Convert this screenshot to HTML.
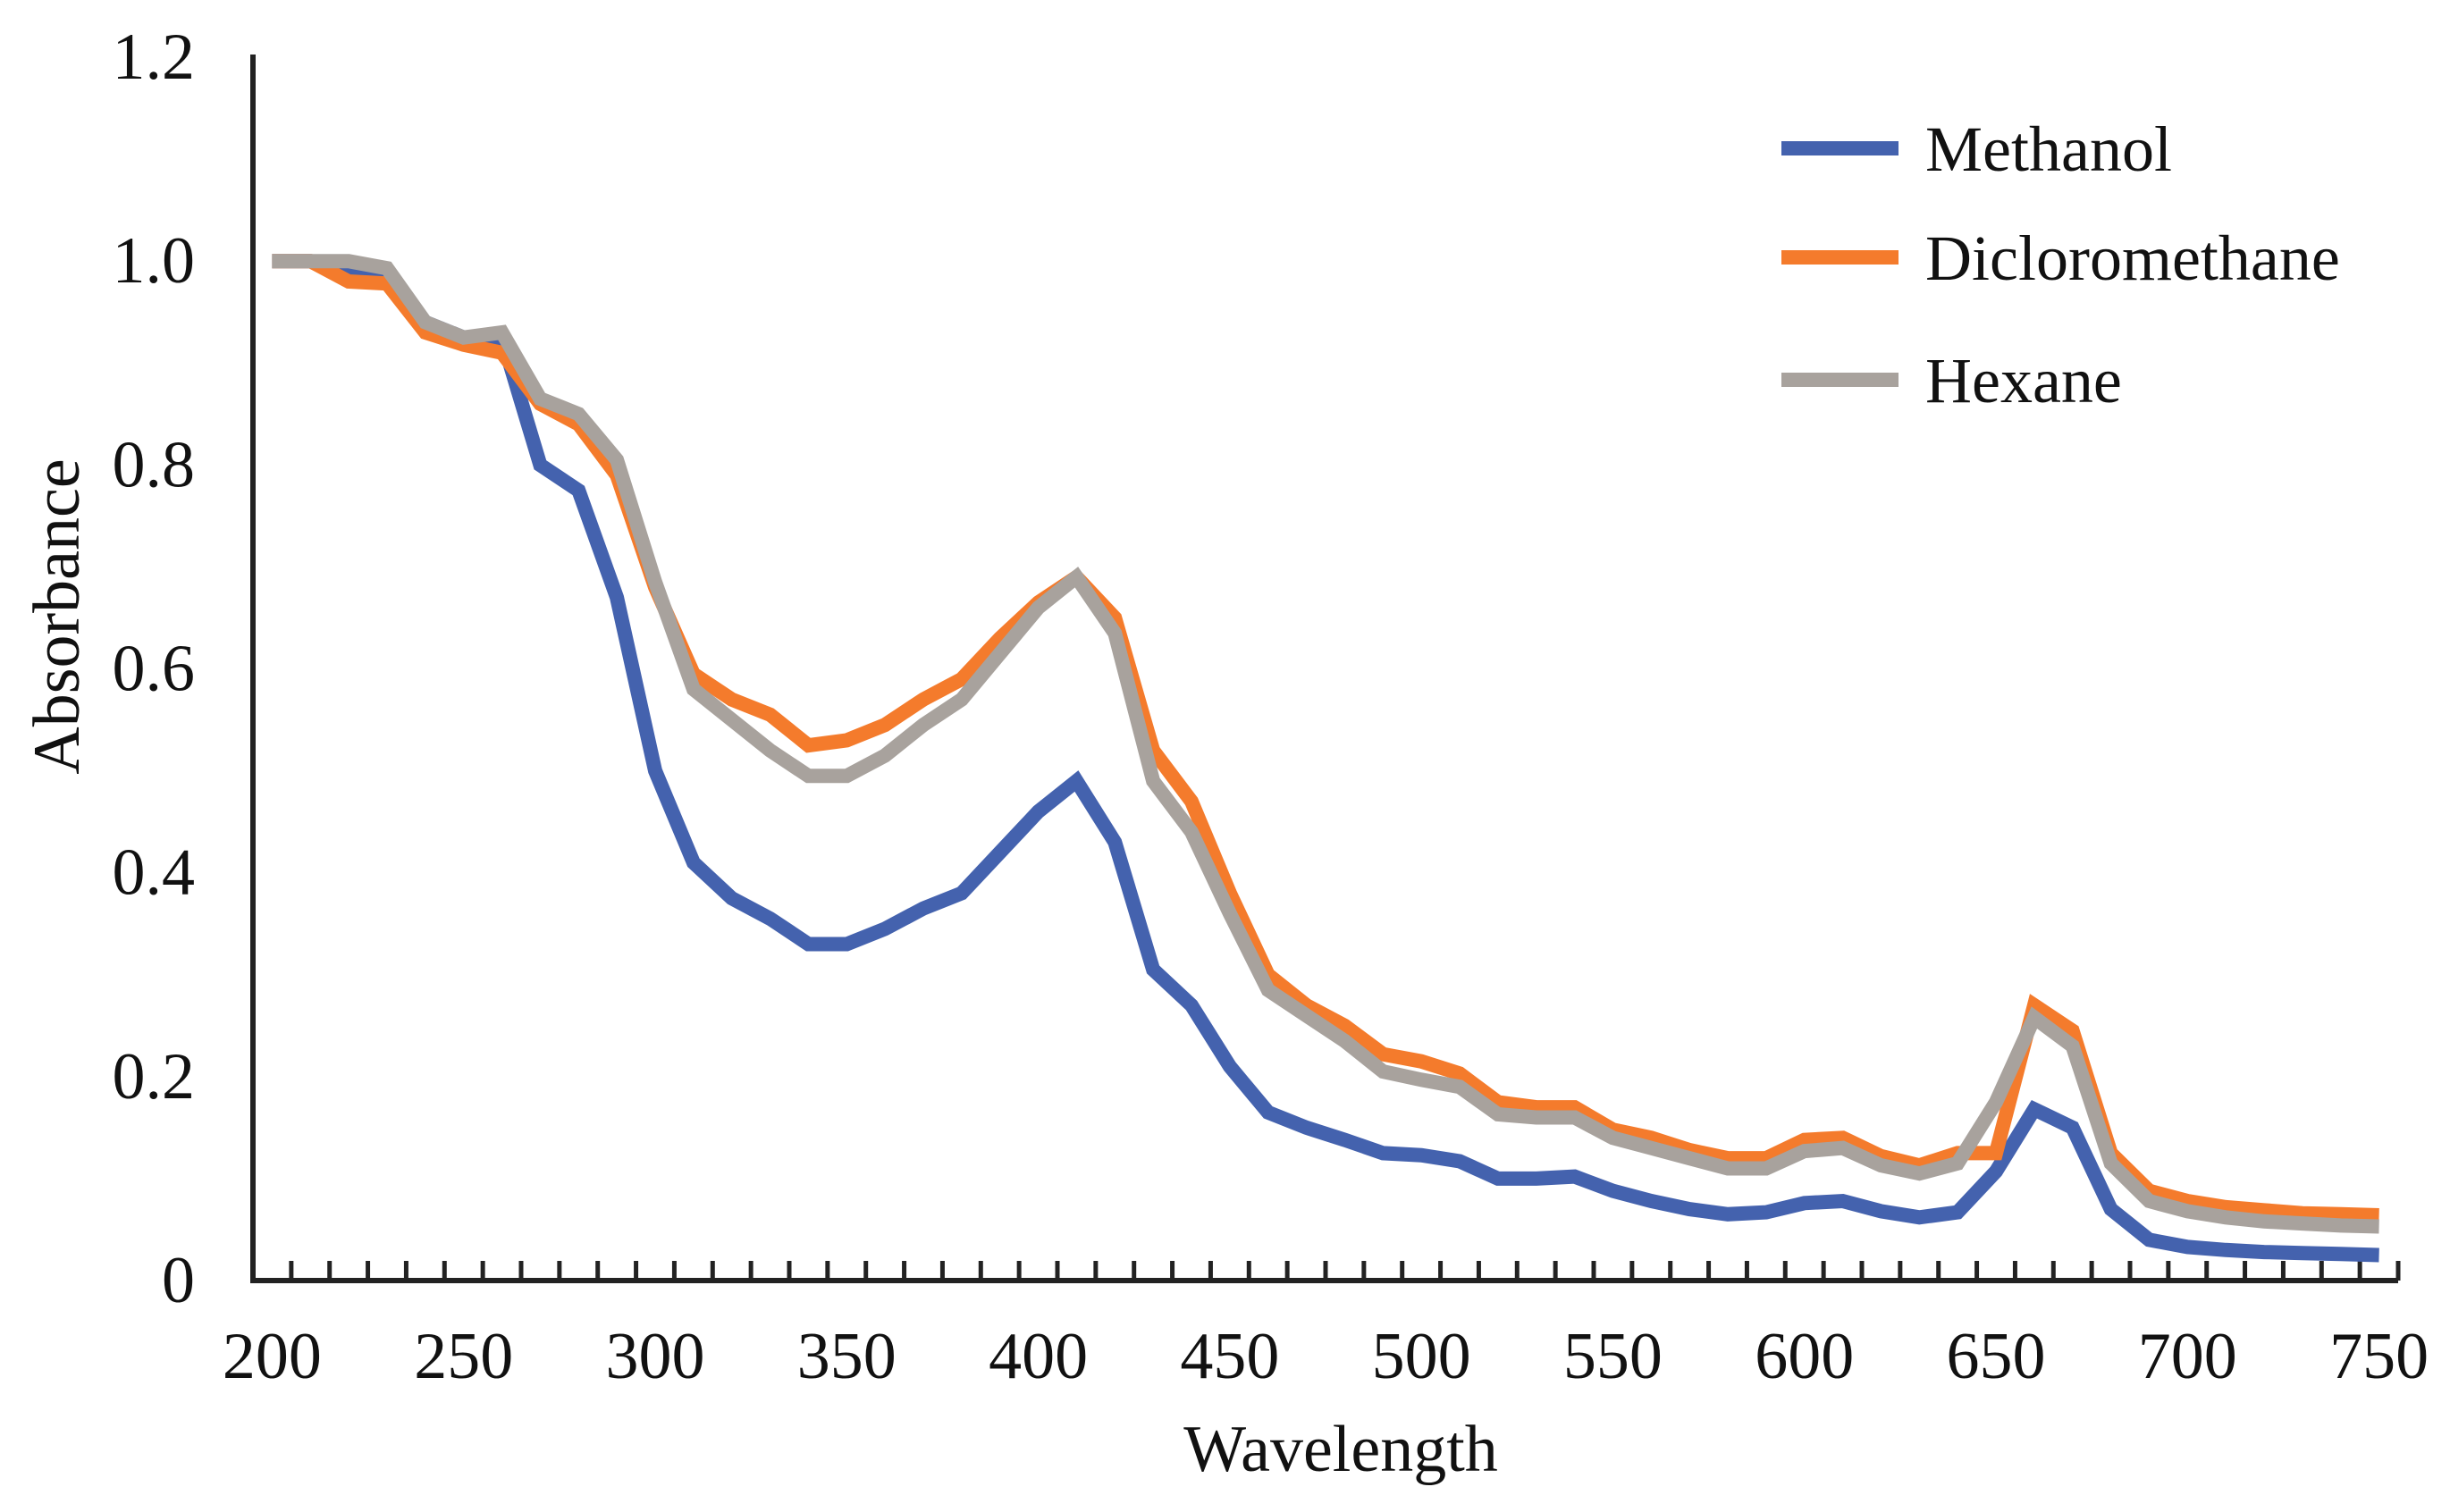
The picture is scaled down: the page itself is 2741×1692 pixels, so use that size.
<!DOCTYPE html>
<html><head><meta charset="utf-8"><style>
html,body{margin:0;padding:0;background:#fff;}
svg{display:block;}
text{font-family:"Liberation Serif",serif;fill:#111;}
</style></head><body>
<svg id="chart" width="2741" height="1692" viewBox="0 0 2741 1692">
<g id="axes"></g>
<g id="series"></g>
<g id="legend"></g>
<text x="1500" y="1646" font-size="74" text-anchor="middle">Wavelength</text>
<text transform="translate(88,690) rotate(-90)" font-size="74" text-anchor="middle">Absorbance</text>
</svg>
<script>
const categories = [200,210,220,230,240,250,260,270,280,290,300,310,320,330,340,350,360,370,380,390,400,410,420,430,440,450,460,470,480,490,500,510,520,530,540,550,560,570,580,590,600,610,620,630,640,650,660,670,680,690,700,710,720,730,740,750];
const methanol = [1.0,1.0,0.99,0.98,0.94,0.925,0.925,0.80,0.775,0.67,0.50,0.41,0.375,0.355,0.33,0.33,0.345,0.365,0.38,0.42,0.46,0.49,0.43,0.305,0.27,0.21,0.165,0.15,0.138,0.125,0.123,0.117,0.10,0.10,0.102,0.088,0.078,0.07,0.065,0.067,0.076,0.078,0.068,0.062,0.067,0.107,0.168,0.15,0.07,0.04,0.033,0.03,0.028,0.027,0.026,0.025];
const dichloromethane = [1.0,1.0,0.98,0.978,0.93,0.918,0.91,0.86,0.84,0.79,0.68,0.595,0.57,0.555,0.525,0.53,0.545,0.57,0.59,0.63,0.665,0.69,0.65,0.52,0.47,0.38,0.30,0.27,0.25,0.222,0.215,0.203,0.175,0.17,0.17,0.148,0.14,0.128,0.12,0.12,0.138,0.14,0.122,0.113,0.125,0.125,0.27,0.245,0.125,0.088,0.078,0.072,0.069,0.066,0.065,0.064];
const hexane = [1.0,1.0,1.0,0.993,0.94,0.925,0.93,0.865,0.85,0.805,0.685,0.58,0.55,0.52,0.495,0.495,0.515,0.545,0.57,0.615,0.66,0.69,0.635,0.49,0.44,0.36,0.285,0.26,0.235,0.205,0.197,0.19,0.163,0.16,0.16,0.14,0.13,0.12,0.11,0.11,0.127,0.13,0.113,0.105,0.115,0.175,0.258,0.23,0.115,0.078,0.068,0.062,0.058,0.056,0.054,0.053];
const yTicks = [0,0.2,0.4,0.6,0.8,1.0,1.2];
const yTickLabels = ["0","0.2","0.4","0.6","0.8","1.0","1.2"];
const xTickLabels = [200,250,300,350,400,450,500,550,600,650,700,750];
const seriesNames = ["Methanol","Dicloromethane","Hexane"];

const NS="http://www.w3.org/2000/svg";
const X0=283, X1=2683, Y0=1433, YTOP=64;
const band=(X1-X0)/categories.length;
function xScale(c){return X0+band*(categories.indexOf(c)+0.5);}
function yScale(v){return Y0-(v/1.2)*(Y0-YTOP);}
function mk(tag,attrs,parent){const e=document.createElementNS(NS,tag);for(const k in attrs)e.setAttribute(k,attrs[k]);parent.appendChild(e);return e;}

const axes=document.getElementById('axes');
let yl=mk('line',{x1:X0,y1:61,x2:X0,y2:Y0,stroke:'#222','stroke-width':6},axes);


let xl=mk('line',{x1:X0-3,y1:Y0,x2:X1,y2:Y0,stroke:'#222','stroke-width':6},axes);


for(let i=1;i<=categories.length;i++){
  const x=X0+band*i;
  const t=mk('line',{x1:x,y1:Y0,x2:x,y2:Y0-22,stroke:'#222','stroke-width':5},axes);
  
  
}
yTicks.forEach((v,i)=>{
  const t=mk('text',{x:218,y:yScale(v)+24,'font-size':74,'text-anchor':'end'},axes);
  t.textContent=yTickLabels[i];
  
  
});
xTickLabels.forEach(c=>{
  const t=mk('text',{x:xScale(c),y:1542,'font-size':74,'text-anchor':'middle'},axes);
  t.textContent=c;
  
  
});

const ser=document.getElementById('series');
const colors=['#4462AE','#F47B2C','#A8A29D'];
[methanol,dichloromethane,hexane].forEach((arr,si)=>{
  const pts=arr.map((v,i)=>xScale(categories[i]).toFixed(1)+','+yScale(v).toFixed(1)).join(' ');
  const p=mk('polyline',{points:pts,fill:'none',stroke:colors[si],'stroke-width':16,'stroke-linejoin':'miter','stroke-miterlimit':3},ser);
  
  
});

const leg=document.getElementById('legend');
const legY=[166,288,425];
seriesNames.forEach((n,i)=>{
  const l=mk('line',{x1:1993,y1:legY[i],x2:2124,y2:legY[i],stroke:colors[i],'stroke-width':16},leg);
  
  
  const t=mk('text',{x:2154,y:legY[i]+25,'font-size':72},leg);
  t.textContent=n;
  
  
});
</script>
</body></html>
